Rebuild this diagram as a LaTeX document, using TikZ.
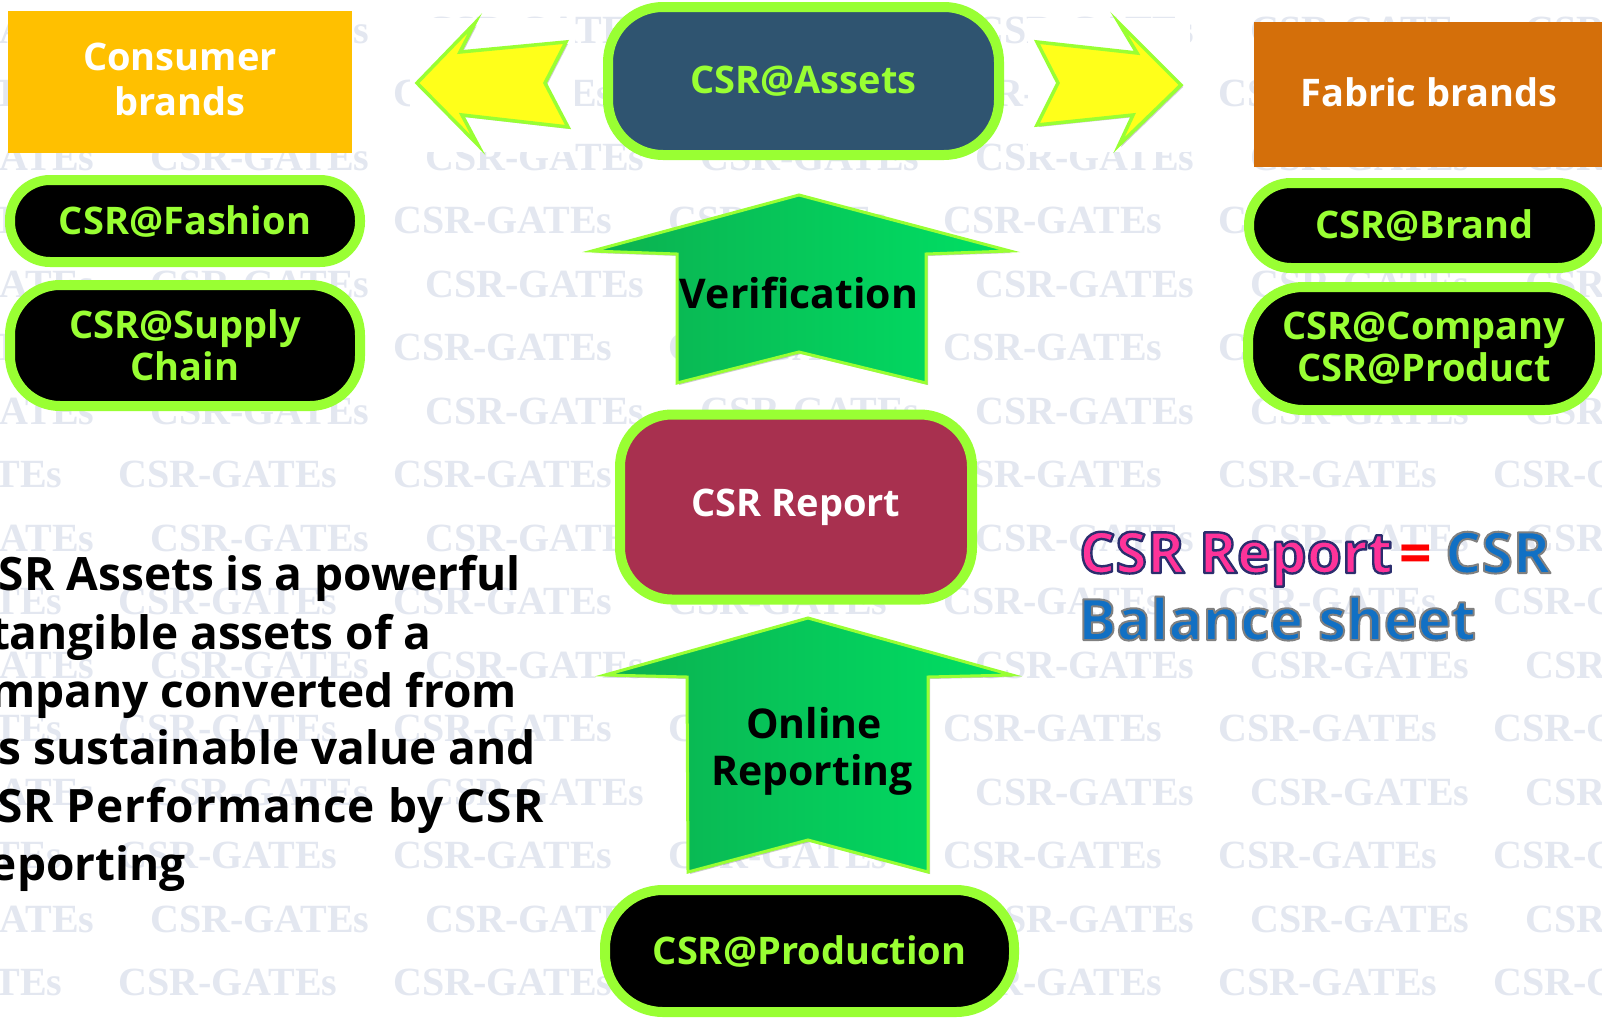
\documentclass[tikz,border=0pt]{standalone}
\usepackage{fontspec}
\setmainfont{Open Sans}
\newfontfamily\wmfont{Liberation Serif}
\usetikzlibrary{shadows}
\definecolor{limegreen}{HTML}{99FF33}
\definecolor{assetsblue}{HTML}{2F5470}
\definecolor{reportred}{HTML}{A8304F}
\definecolor{consumeryellow}{HTML}{FFC000}
\definecolor{fabricorange}{HTML}{D46F0A}
\definecolor{arrowyellow}{HTML}{FFFF1A}
\definecolor{greendark}{HTML}{0CB050}
\definecolor{greenlight}{HTML}{00E064}
\definecolor{wmgray}{HTML}{E3E7F0}
\definecolor{csrpink}{HTML}{FF3399}
\definecolor{csrblue}{HTML}{1170C4}
\definecolor{eqred}{HTML}{FF0000}
% outlined text: stroke settings, then text
\newcommand{\outlinetext}[2]{\special{pdf:literal direct q 1 j 2 Tr #1}#2\special{pdf:literal direct Q}}
\tikzstyle{wmtext}=[inner sep=0pt,anchor=west,text=wmgray,font=\wmfont\bfseries\fontsize{40}{40}\selectfont]
\tikzstyle{pill}=[draw=limegreen,line width=10pt,fill=black,text=limegreen,align=center,inner sep=0pt,font=\bfseries\fontsize{38}{42}\selectfont]
\tikzstyle{brandbox}=[inner sep=0pt,text=white,align=center,font=\bfseries\fontsize{38}{45}\selectfont]
\tikzstyle{sidearrow}=[draw=limegreen,line width=3.5pt,fill=arrowyellow,drop shadow={shadow xshift=2pt,shadow yshift=-2pt,opacity=0.4}]
\tikzstyle{uparrow}=[draw=limegreen,line width=3pt,left color=greendark,right color=greenlight,drop shadow={shadow xshift=2pt,shadow yshift=-2pt,opacity=0.4}]
\tikzstyle{arrowtext}=[inner sep=0pt,anchor=base,font=\bfseries\fontsize{41}{47}\selectfont]
\tikzstyle{bodytext}=[inner sep=0pt,anchor=base east,font=\bfseries\fontsize{46}{46}\selectfont]
\tikzstyle{bigtext}=[inner sep=0pt,anchor=base west,font=\bfseries\fontsize{57}{67}\selectfont]
\begin{document}
\begin{tikzpicture}[x=1pt,y=-1pt]
\fill[white] (0,0) rectangle (1602,1017);
\useasboundingbox (0,0) rectangle (1602,1017);
\clip (0,0) rectangle (1602,1017);
% watermark
\foreach \n in {0,...,15}{
  \pgfmathsetmacro{\wy}{30+63.5*\n}
  \pgfmathsetmacro{\wx}{mod(\n,2)==0 ? 150 : 118}
  \foreach \k in {-1,...,5}
    \node[wmtext] (wm-\n-\k) at (\wx+275*\k,\wy) {CSR-GATEs};
}
\fill[white] (410,18) rectangle (575,152);
\fill[white] (1028,18) rectangle (1190,152);

% top row
\node[fill=consumeryellow,minimum width=344pt,minimum height=142pt] (consumer) at (180,82) {};
\node[brandbox] (consumertext) at (180,79) {Consumer\\brands};
\node[pill,fill=assetsblue,minimum width=391pt,minimum height=148pt,rounded corners=55pt] (assets) at (803.5,81) {CSR@Assets};
\node[fill=fabricorange,minimum width=356pt,minimum height=145pt] (fabric) at (1432,94.5) {};
\node[brandbox] (fabrictext) at (1429,92) {Fabric brands};
\draw[sidearrow] (417,83) -- (475,23) -- (460,52) -- (566,42) -- (545,83) -- (568,127) -- (462,115) -- (478,145) -- cycle;
\draw[sidearrow] (1181,85) -- (1119,23) -- (1137,53) -- (1037,42) -- (1058,83) -- (1037,125) -- (1133,115) -- (1119,145) -- cycle;

% left column
\node[pill,minimum width=350pt,minimum height=82pt,rounded corners=40pt] (fashion) at (185,221) {CSR@Fashion};
\node[pill,minimum width=350pt,minimum height=121pt,rounded corners=50pt] (supply) at (185,345.5) {CSR@Supply\\Chain};

% right column
\node[pill,minimum width=351pt,minimum height=85pt,rounded corners=42pt] (brand) at (1424.5,225.5) {CSR@Brand};
\node[pill,minimum width=352pt,minimum height=123pt,rounded corners=55pt] (company) at (1424,348.5) {CSR@Company\\CSR@Product};

% centre column
\draw[uparrow] (799,195) -- (1010,251) -- (926,254) -- (926,383) -- (799,352) -- (677,383) -- (677,254) -- (592,251) -- cycle;
\node[arrowtext] (verification) at (799,308) {Verification};
\node[pill,fill=reportred,text=white,minimum width=352pt,minimum height=185pt,rounded corners=52pt] (report) at (796,507) {CSR Report};
\draw[uparrow] (808,618) -- (1012,675) -- (928,677) -- (928,872) -- (808,840) -- (688,872) -- (687,677) -- (605,675) -- cycle;
\node[arrowtext] (online) at (814,738) {Online};
\node[arrowtext] (reporting) at (812,785) {Reporting};
\node[pill,minimum width=409pt,minimum height=122pt,rounded corners=58pt] (production) at (809.5,951) {CSR@Production};

% text block
\node[bodytext] (line1) at (521,590) {SR Assets is a powerful};
\node[bodytext] (line2) at (432,649) {tangible assets of a};
\node[bodytext] (line3) at (517,707) {mpany converted from};
\node[bodytext] (line4) at (536,764) {s sustainable value and};
\node[bodytext,anchor=base west] (line5) at (-3,822) {\addfontfeature{LetterSpace=2.2}SR Performance by CSR};
\node[bodytext] (line6) at (186,880) {eporting};

% balance sheet
\node[bigtext] (equation) at (1079,573)
  {{\color{csrpink}\outlinetext{2.4 w 0.17 0.18 0.43 RG}{CSR Report}}\hspace{7pt}{\color{eqred}=}\hspace{13pt}{\color{csrblue}\outlinetext{2 w 0.5 0.5 0.5 RG}{CSR}}};
\node[bigtext] (balance) at (1078,640)
  {\color{csrblue}\outlinetext{2 w 0.5 0.5 0.5 RG}{Balance sheet}};
\end{tikzpicture}
\end{document}
